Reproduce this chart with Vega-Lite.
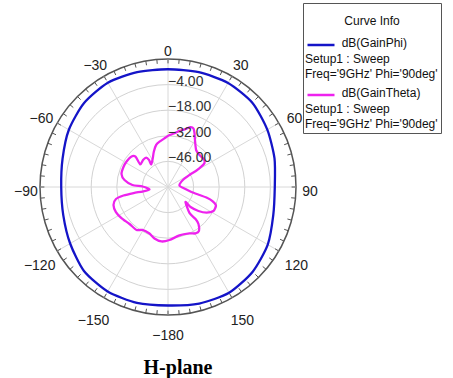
{
  "$schema": "https://vega.github.io/schema/vega-lite/v6.json",
  "width": 256,
  "height": 256,
  "autosize": "none",
  "padding": {"left": 40, "top": 59, "right": 157, "bottom": 63},
  "background": "white",
  "config": {"view": {"stroke": null}, "font": "Liberation Sans"},
  "title": {"text": "H-plane", "orient": "bottom", "frame": "group", "anchor": "middle", "baseline": "alphabetic", "offset": 31, "dx": 10, "font": "Liberation Serif", "fontSize": 20, "fontWeight": "bold", "color": "#000"},
  "datasets": {
    "series": [
      {"c": "GainPhi", "name": "dB(GainPhi)|Setup1 : Sweep|Freq='9GHz' Phi='90deg'"},
      {"c": "GainTheta", "name": "dB(GainTheta)|Setup1 : Sweep|Freq='9GHz' Phi='90deg'"}
    ],
    "rings": [{"r": -46}, {"r": -32}, {"r": -18}, {"r": -4}, {"r": 10}],
    "spokes": [{"a": 0}, {"a": 30}, {"a": 60}, {"a": 90}, {"a": 120}, {"a": 150}],
    "ticks": [{"a":0},{"a":5},{"a":10},{"a":15},{"a":20},{"a":25},{"a":30},{"a":35},{"a":40},{"a":45},{"a":50},{"a":55},{"a":60},{"a":65},{"a":70},{"a":75},{"a":80},{"a":85},{"a":90},{"a":95},{"a":100},{"a":105},{"a":110},{"a":115},{"a":120},{"a":125},{"a":130},{"a":135},{"a":140},{"a":145},{"a":150},{"a":155},{"a":160},{"a":165},{"a":170},{"a":175},{"a":180},{"a":185},{"a":190},{"a":195},{"a":200},{"a":205},{"a":210},{"a":215},{"a":220},{"a":225},{"a":230},{"a":235},{"a":240},{"a":245},{"a":250},{"a":255},{"a":260},{"a":265},{"a":270},{"a":275},{"a":280},{"a":285},{"a":290},{"a":295},{"a":300},{"a":305},{"a":310},{"a":315},{"a":320},{"a":325},{"a":330},{"a":335},{"a":340},{"a":345},{"a":350},{"a":355}],
    "angleLabels": [{"a": 0}, {"a": 30}, {"a": 60}, {"a": 90}, {"a": 120}, {"a": 150}, {"a": -180}, {"a": -150}, {"a": -120}, {"a": -90}, {"a": -60}, {"a": -30}],
    "curves": [
      {"c":"GainPhi","i":0,"a":-180,"g":4.8},
      {"c":"GainPhi","i":1,"a":-165,"g":5.6},
      {"c":"GainPhi","i":2,"a":-150,"g":6.0},
      {"c":"GainPhi","i":3,"a":-135,"g":5.0},
      {"c":"GainPhi","i":4,"a":-120,"g":1.8},
      {"c":"GainPhi","i":5,"a":-105,"g":-0.7},
      {"c":"GainPhi","i":6,"a":-90,"g":-1.6},
      {"c":"GainPhi","i":7,"a":-75,"g":-0.3},
      {"c":"GainPhi","i":8,"a":-60,"g":2.6},
      {"c":"GainPhi","i":9,"a":-45,"g":4.9},
      {"c":"GainPhi","i":10,"a":-30,"g":5.8},
      {"c":"GainPhi","i":11,"a":-15,"g":5.1},
      {"c":"GainPhi","i":12,"a":0,"g":4.4},
      {"c":"GainPhi","i":13,"a":15,"g":5.0},
      {"c":"GainPhi","i":14,"a":30,"g":5.7},
      {"c":"GainPhi","i":15,"a":45,"g":5.2},
      {"c":"GainPhi","i":16,"a":60,"g":2.7},
      {"c":"GainPhi","i":17,"a":75,"g":0.3},
      {"c":"GainPhi","i":18,"a":90,"g":-1.6},
      {"c":"GainPhi","i":19,"a":105,"g":-0.4},
      {"c":"GainPhi","i":20,"a":120,"g":3.0},
      {"c":"GainPhi","i":21,"a":135,"g":5.5},
      {"c":"GainPhi","i":22,"a":150,"g":6.8},
      {"c":"GainPhi","i":23,"a":165,"g":6.0},
      {"c":"GainTheta","i":1,"a":1.7,"g":-31.6},
      {"c":"GainTheta","i":2,"a":6.9,"g":-30.4},
      {"c":"GainTheta","i":3,"a":11.6,"g":-28.7},
      {"c":"GainTheta","i":4,"a":16.8,"g":-26.9},
      {"c":"GainTheta","i":5,"a":20.6,"g":-25.0},
      {"c":"GainTheta","i":6,"a":23.6,"g":-25.1},
      {"c":"GainTheta","i":7,"a":26.1,"g":-27.1},
      {"c":"GainTheta","i":8,"a":29.9,"g":-30.4},
      {"c":"GainTheta","i":9,"a":37.3,"g":-34.6},
      {"c":"GainTheta","i":10,"a":44.5,"g":-35.4},
      {"c":"GainTheta","i":11,"a":52.3,"g":-35.2},
      {"c":"GainTheta","i":12,"a":56.7,"g":-36.1},
      {"c":"GainTheta","i":13,"a":58.6,"g":-38.7},
      {"c":"GainTheta","i":14,"a":60.0,"g":-42.2},
      {"c":"GainTheta","i":15,"a":60.8,"g":-46.5},
      {"c":"GainTheta","i":16,"a":64.7,"g":-51.0},
      {"c":"GainTheta","i":17,"a":82.6,"g":-53.7},
      {"c":"GainTheta","i":18,"a":96.5,"g":-50.4},
      {"c":"GainTheta","i":19,"a":102.0,"g":-46.9},
      {"c":"GainTheta","i":20,"a":104.2,"g":-42.2},
      {"c":"GainTheta","i":21,"a":105.3,"g":-38.2},
      {"c":"GainTheta","i":22,"a":107.5,"g":-34.5},
      {"c":"GainTheta","i":23,"a":111.1,"g":-31.9},
      {"c":"GainTheta","i":24,"a":117.8,"g":-31.9},
      {"c":"GainTheta","i":25,"a":123.5,"g":-34.7},
      {"c":"GainTheta","i":26,"a":128.2,"g":-38.8},
      {"c":"GainTheta","i":27,"a":131.6,"g":-43.5},
      {"c":"GainTheta","i":28,"a":130.6,"g":-47.4},
      {"c":"GainTheta","i":29,"a":140.4,"g":-41.6},
      {"c":"GainTheta","i":30,"a":139.3,"g":-36.9},
      {"c":"GainTheta","i":31,"a":140.5,"g":-33.8},
      {"c":"GainTheta","i":32,"a":144.8,"g":-30.6},
      {"c":"GainTheta","i":33,"a":149.4,"g":-30.5},
      {"c":"GainTheta","i":34,"a":155.2,"g":-32.0},
      {"c":"GainTheta","i":35,"a":166.7,"g":-32.8},
      {"c":"GainTheta","i":36,"a":178.4,"g":-31.0},
      {"c":"GainTheta","i":37,"a":-173.2,"g":-30.0},
      {"c":"GainTheta","i":38,"a":-165.3,"g":-30.9},
      {"c":"GainTheta","i":39,"a":-158.3,"g":-32.6},
      {"c":"GainTheta","i":40,"a":-149.3,"g":-32.7},
      {"c":"GainTheta","i":41,"a":-143.8,"g":-30.9},
      {"c":"GainTheta","i":42,"a":-133.9,"g":-30.8},
      {"c":"GainTheta","i":43,"a":-123.7,"g":-29.4},
      {"c":"GainTheta","i":44,"a":-115.7,"g":-28.4},
      {"c":"GainTheta","i":45,"a":-108.3,"g":-28.6},
      {"c":"GainTheta","i":46,"a":-103.0,"g":-30.8},
      {"c":"GainTheta","i":47,"a":-100.8,"g":-35.2},
      {"c":"GainTheta","i":48,"a":-99.9,"g":-40.9},
      {"c":"GainTheta","i":49,"a":-100.0,"g":-45.8},
      {"c":"GainTheta","i":50,"a":-97.7,"g":-49.8},
      {"c":"GainTheta","i":51,"a":-88.9,"g":-46.1},
      {"c":"GainTheta","i":52,"a":-86.8,"g":-40.5},
      {"c":"GainTheta","i":53,"a":-80.9,"g":-35.9},
      {"c":"GainTheta","i":54,"a":-74.4,"g":-33.6},
      {"c":"GainTheta","i":55,"a":-65.8,"g":-33.3},
      {"c":"GainTheta","i":56,"a":-58.4,"g":-33.4},
      {"c":"GainTheta","i":57,"a":-50.5,"g":-33.9},
      {"c":"GainTheta","i":58,"a":-47.0,"g":-35.7},
      {"c":"GainTheta","i":59,"a":-50.8,"g":-40.4},
      {"c":"GainTheta","i":60,"a":-42.8,"g":-39.9},
      {"c":"GainTheta","i":61,"a":-36.6,"g":-40.0},
      {"c":"GainTheta","i":62,"a":-35.1,"g":-41.9},
      {"c":"GainTheta","i":63,"a":-36.5,"g":-44.6},
      {"c":"GainTheta","i":64,"a":-27.9,"g":-42.2},
      {"c":"GainTheta","i":65,"a":-21.9,"g":-39.2},
      {"c":"GainTheta","i":66,"a":-15.7,"g":-36.1},
      {"c":"GainTheta","i":67,"a":-10.6,"g":-34.8},
      {"c":"GainTheta","i":68,"a":-4.1,"g":-33.3}
    ]
  },
  "layer": [
    {
      "data": {"name": "rings"},
      "transform": [{"calculate": "datum.r + 60", "as": "d"}],
      "mark": {"type": "point", "shape": "circle", "filled": false, "opacity": 1},
      "encoding": {
        "x": {"datum": 0, "type": "quantitative", "scale": {"domain": [-70, 70], "nice": false, "zero": false}, "axis": null},
        "y": {"datum": 0, "type": "quantitative", "scale": {"domain": [-70, 70], "nice": false, "zero": false}, "axis": null},
        "size": {"field": "d", "type": "quantitative", "scale": {"type": "pow", "exponent": 2, "domain": [0, 70], "range": [0, 65536], "zero": true, "nice": false}, "legend": null},
        "stroke": {"condition": {"test": "datum.r == 10", "value": "#555"}, "value": "#d2d2d2"},
        "strokeWidth": {"condition": {"test": "datum.r == 10", "value": 1.5}, "value": 1}
      }
    },
    {
      "data": {"name": "spokes"},
      "transform": [
        {"calculate": "70 * sin(datum.a * PI / 180)", "as": "ex"},
        {"calculate": "70 * cos(datum.a * PI / 180)", "as": "ey"},
        {"calculate": "-datum.ex", "as": "nx"},
        {"calculate": "-datum.ey", "as": "ny"}
      ],
      "mark": {"type": "rule", "color": "#d8d8d8", "strokeWidth": 1},
      "encoding": {
        "x": {"field": "ex", "type": "quantitative", "scale": {"domain": [-70, 70], "nice": false, "zero": false}, "axis": null},
        "y": {"field": "ey", "type": "quantitative", "scale": {"domain": [-70, 70], "nice": false, "zero": false}, "axis": null},
        "x2": {"field": "nx"},
        "y2": {"field": "ny"}
      }
    },
    {
      "data": {"name": "ticks"},
      "transform": [
        {"calculate": "70 * sin(datum.a * PI / 180)", "as": "ex"},
        {"calculate": "70 * cos(datum.a * PI / 180)", "as": "ey"},
        {"calculate": "67.6 * sin(datum.a * PI / 180)", "as": "ix"},
        {"calculate": "67.6 * cos(datum.a * PI / 180)", "as": "iy"}
      ],
      "mark": {"type": "rule", "color": "#555", "strokeWidth": 1},
      "encoding": {
        "x": {"field": "ex", "type": "quantitative", "scale": {"domain": [-70, 70], "nice": false, "zero": false}, "axis": null},
        "y": {"field": "ey", "type": "quantitative", "scale": {"domain": [-70, 70], "nice": false, "zero": false}, "axis": null},
        "x2": {"field": "ix"},
        "y2": {"field": "iy"}
      }
    },
    {
      "data": {"name": "curves"},
      "transform": [
        {"lookup": "c", "from": {"data": {"name": "series"}, "key": "c", "fields": ["name"]}},
        {"calculate": "(datum.g + 60) * sin(datum.a * PI / 180)", "as": "px"},
        {"calculate": "(datum.g + 60) * cos(datum.a * PI / 180)", "as": "py"}
      ],
      "mark": {"type": "line", "interpolate": "cardinal-closed", "tension": 0.3, "strokeWidth": 2.3},
      "encoding": {
        "x": {"field": "px", "type": "quantitative", "scale": {"domain": [-70, 70], "nice": false, "zero": false}, "axis": null},
        "y": {"field": "py", "type": "quantitative", "scale": {"domain": [-70, 70], "nice": false, "zero": false}, "axis": null},
        "order": {"field": "i", "type": "quantitative"},
        "color": {
          "field": "name", "type": "nominal",
          "scale": {"domain": ["dB(GainPhi)|Setup1 : Sweep|Freq='9GHz' Phi='90deg'", "dB(GainTheta)|Setup1 : Sweep|Freq='9GHz' Phi='90deg'"], "range": ["#1414c8", "#ee22ee"]},
          "legend": {
            "orient": "none", "legendX": 263, "legendY": -56,
            "title": "Curve Info", "titleAnchor": "middle", "titleFont": "Liberation Sans", "titleFontSize": 12, "titleFontWeight": "normal", "titleColor": "#111", "titlePadding": 12,
            "labelFont": "Liberation Sans", "labelFontSize": 12, "labelColor": "#111", "labelBaseline": "top", "labelOffset": -31, "labelLimit": 400,
            "labelExpr": "split('\u200b\u00a0\u00a0\u00a0\u00a0\u00a0\u00a0\u00a0\u00a0\u00a0\u00a0\u00a0' + datum.label, '|')",
            "symbolType": "stroke", "symbolSize": 729, "symbolStrokeWidth": 2.5,
            "fillColor": "white", "strokeColor": "#555", "padding": 3, "rowPadding": -14,
            "encode": {
              "labels": {"update": {"dy": {"value": -7}, "lineHeight": {"value": 15.5}}},
              "title": {"update": {"dy": {"value": 10}}}
            }
          }
        }
      }
    },
    {
      "data": {"name": "rings"},
      "transform": [{"filter": "datum.r < 10"}, {"calculate": "datum.r + 60", "as": "ry"}],
      "mark": {"type": "text", "align": "left", "baseline": "middle", "dy": -3, "fontSize": 14, "font": "Liberation Sans", "color": "#333"},
      "encoding": {
        "x": {"datum": 0, "type": "quantitative", "scale": {"domain": [-70, 70], "nice": false, "zero": false}, "axis": null},
        "y": {"field": "ry", "type": "quantitative", "scale": {"domain": [-70, 70], "nice": false, "zero": false}, "axis": null},
        "text": {"field": "r", "type": "quantitative", "format": ".2f"}
      }
    },
    {
      "data": {"name": "angleLabels"},
      "transform": [
        {"calculate": "(77.66 + 3.28 * abs(sin(2 * datum.a * PI / 180)) - 1.094 * cos(datum.a * PI / 180)) * sin(datum.a * PI / 180)", "as": "lx"},
        {"calculate": "(77.66 + 3.28 * abs(sin(2 * datum.a * PI / 180)) - 1.094 * cos(datum.a * PI / 180)) * cos(datum.a * PI / 180)", "as": "ly"}
      ],
      "mark": {"type": "text", "align": "center", "baseline": "middle", "dy": 5, "fontSize": 14, "font": "Liberation Sans", "color": "#222"},
      "encoding": {
        "x": {"field": "lx", "type": "quantitative", "scale": {"domain": [-70, 70], "nice": false, "zero": false}, "axis": null},
        "y": {"field": "ly", "type": "quantitative", "scale": {"domain": [-70, 70], "nice": false, "zero": false}, "axis": null},
        "text": {"field": "a", "type": "quantitative", "format": "d"}
      }
    }
  ]
}
